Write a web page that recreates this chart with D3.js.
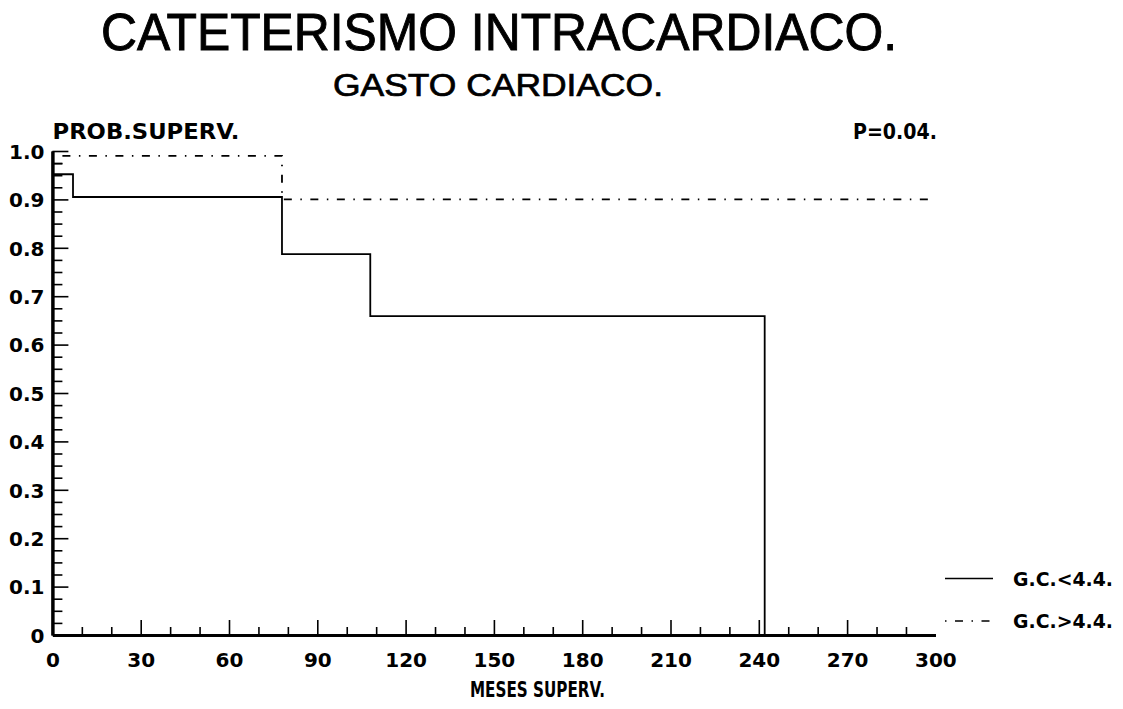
<!DOCTYPE html>
<html>
<head>
<meta charset="utf-8">
<script src="https://cdn.jsdelivr.net/npm/d3@7/dist/d3.min.js"></script>
<style>
  html, body { margin: 0; padding: 0; background: #fff; }
  svg { display: block; }
</style>
</head>
<body>
<svg id="chart" width="1123" height="709"></svg>
<script>
// Kaplan-Meier survival by cardiac output group
const timesLow  = [0, 7, 78, 108, 242];          // months, G.C.<4.4.
const survLow   = [0.952, 0.905, 0.787, 0.659, 0];
const timesHigh = [0, 78, 300];                  // months, G.C.>4.4.
const survHigh  = [0.99, 0.90, 0.90];

const seriesNames = ["G.C.<4.4.", "G.C.>4.4."];
const xMajorTicks = [0, 30, 60, 90, 120, 150, 180, 210, 240, 270, 300];
const xMinorTicks = [10, 20, 40, 50, 70, 80, 100, 110, 130, 140, 160, 170, 190, 200, 220, 230, 250, 260, 280, 290];
const yMajorTicks = [0, 0.1, 0.2, 0.3, 0.4, 0.5, 0.6, 0.7, 0.8, 0.9, 1.0];
const yTickLabels = ["0", "0.1", "0.2", "0.3", "0.4", "0.5", "0.6", "0.7", "0.8", "0.9", "1.0"];

const svg = d3.select("#chart");
const tickFont = "DejaVu Sans, Verdana, sans-serif";
const titleFont = "Liberation Sans, Arial, Helvetica, sans-serif";

const x = d3.scaleLinear().domain([0, 300]).range([52.4, 935.4]);
const y = d3.scaleLinear().domain([0, 1]).range([635, 151]);

// Titles
svg.append("text")
  .attr("x", 101).attr("y", 49.5)
  .attr("font-family", titleFont).attr("font-size", 51)
  .attr("stroke", "#000").attr("stroke-width", 0.9)
  .attr("textLength", 796).attr("lengthAdjust", "spacingAndGlyphs")
  .text("CATETERISMO INTRACARDIACO.");
svg.append("text")
  .attr("x", 333).attr("y", 96)
  .attr("font-family", titleFont).attr("font-size", 31)
  .attr("stroke", "#000").attr("stroke-width", 0.7)
  .attr("textLength", 330).attr("lengthAdjust", "spacingAndGlyphs")
  .text("GASTO CARDIACO.");

// Minor x ticks (inward)
const gxMinor = svg.append("g").attr("transform", `translate(0,${y(0)})`)
  .call(d3.axisBottom(x).tickValues(xMinorTicks).tickSize(-8).tickSizeOuter(0).tickFormat(""));
// Major x ticks with labels
const gx = svg.append("g").attr("transform", `translate(0,${y(0)})`)
  .call(d3.axisBottom(x).tickValues(xMajorTicks.filter(v => v > 0 && v < 300)).tickSize(-15).tickSizeOuter(0).tickFormat(""));
const gxLab = svg.append("g").attr("transform", `translate(0,${y(0)})`)
  .call(d3.axisBottom(x).tickValues(xMajorTicks).tickSize(0).tickPadding(18).tickFormat(d3.format("d")));
gxLab.select(".domain").remove();

// Minor y ticks every 0.025
const yMinorTicks = d3.range(0, 40).map(i => i * 0.025).filter((v, i) => i % 4 !== 0).concat([0.975]);
const gyMinor = svg.append("g").attr("transform", `translate(${x(0)},0)`)
  .call(d3.axisLeft(y).tickValues(yMinorTicks).tickSize(-10).tickSizeOuter(0).tickFormat(""));
const gy = svg.append("g").attr("transform", `translate(${x(0)},0)`)
  .call(d3.axisLeft(y).tickValues(yMajorTicks.filter(v => v > 0)).tickSize(-16).tickSizeOuter(0).tickFormat(""));
const gyLab = svg.append("g").attr("transform", `translate(${x(0)},0)`)
  .call(d3.axisLeft(y).tickValues(yMajorTicks).tickSize(0).tickPadding(8)
    .tickFormat((d, i) => yTickLabels[i]));
gyLab.select(".domain").remove();

[gxMinor, gx, gyMinor, gy].forEach(g => {
  g.select(".domain").attr("stroke", "#000").attr("stroke-width", 3);
  g.selectAll(".tick line").attr("stroke", "#000").attr("stroke-width", 1.6);
});
[gxLab, gyLab].forEach(g => {
  g.selectAll("text")
    .attr("font-family", tickFont).attr("font-weight", "bold")
    .attr("font-size", 20).attr("fill", "#000");
});
gyLab.selectAll("text").attr("dy", "0.36em");

// Axis titles and annotation
svg.append("text")
  .attr("x", 52.5).attr("y", 139)
  .attr("font-family", tickFont).attr("font-weight", "bold").attr("font-size", 21)
  .attr("textLength", 187).attr("lengthAdjust", "spacingAndGlyphs")
  .text("PROB.SUPERV.");
svg.append("text")
  .attr("x", 853).attr("y", 139)
  .attr("font-family", tickFont).attr("font-weight", "bold").attr("font-size", 21)
  .attr("textLength", 84).attr("lengthAdjust", "spacingAndGlyphs")
  .text("P=0.04.");
svg.append("text")
  .attr("x", 470).attr("y", 697)
  .attr("font-family", tickFont).attr("font-weight", "bold").attr("font-size", 22)
  .attr("textLength", 135).attr("lengthAdjust", "spacingAndGlyphs")
  .text("MESES SUPERV.");

// Survival curves
const dashDot = "1.5,8.5,8,8.5";
const line = d3.line().x(d => x(d[0])).y(d => y(d[1])).curve(d3.curveStepAfter);

svg.append("path")
  .datum(d3.zip(timesHigh, survHigh))
  .attr("d", line)
  .attr("fill", "none").attr("stroke", "#000").attr("stroke-width", 1.8)
  .attr("stroke-dasharray", dashDot);

svg.append("path")
  .datum(d3.zip(timesLow, survLow))
  .attr("d", line)
  .attr("fill", "none").attr("stroke", "#000").attr("stroke-width", 1.8);

// Legend
const legend = svg.append("g");
const legendRows = [
  { name: seriesNames[0], ly: 578.5, ty: 586, dash: null, x2: 993 },
  { name: seriesNames[1], ly: 621, ty: 628, dash: dashDot, x2: 990 }
];
legendRows.forEach(r => {
  legend.append("line")
    .attr("x1", 945).attr("x2", r.x2).attr("y1", r.ly).attr("y2", r.ly)
    .attr("stroke", "#000").attr("stroke-width", 1.3)
    .attr("stroke-dasharray", r.dash);
  legend.append("text")
    .attr("x", 1013).attr("y", r.ty)
    .attr("font-family", tickFont).attr("font-weight", "bold").attr("font-size", 19)
    .attr("textLength", 100).attr("lengthAdjust", "spacingAndGlyphs")
    .text(r.name);
});
</script>
</body>
</html>
